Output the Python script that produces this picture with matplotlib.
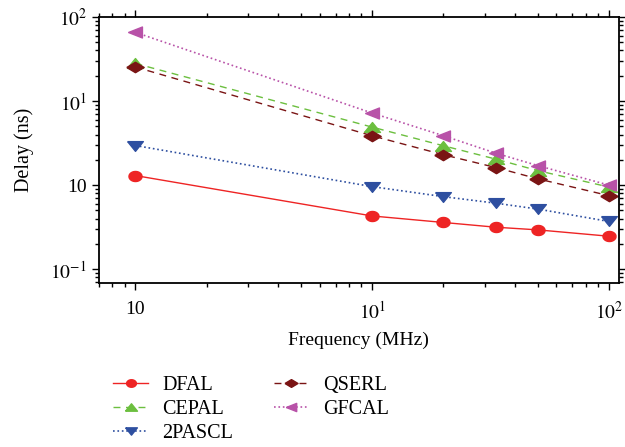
import numpy as np
import matplotlib
matplotlib.use("Agg")
import matplotlib.pyplot as plt
from matplotlib.ticker import FixedLocator, FixedFormatter, LogLocator, NullFormatter

plt.rcParams['font.family'] = ['Liberation Serif', 'DejaVu Serif']
plt.rcParams['mathtext.fontset'] = 'stix'

freq = [1, 10, 20, 33.3, 50, 100]

DFAL = [1.30, 0.43, 0.36, 0.316, 0.294, 0.247]
CEPAL = [28.0, 4.9, 2.94, 2.04, 1.49, 0.95]
PASCL = [2.96, 0.96, 0.73, 0.61, 0.52, 0.37]
QSERL = [25.4, 3.86, 2.30, 1.62, 1.19, 0.75]
GFCAL = [65.6, 7.2, 3.87, 2.40, 1.71, 1.0]

x_ticks = [1, 10, 100]
x_labels = ['10', '$10^1$', '$10^2$']
y_ticks = [0.1, 1, 10, 100]
y_labels = ['$10^{-1}$', '10', '$10^1$', '$10^2$']

# markers in the source are a bit wider than tall
t = np.linspace(0, 2 * np.pi, 40)
m_circle = list(zip(np.cos(t), 0.77 * np.sin(t)))
m_up = [(-1, -0.62), (1, -0.62), (0, 0.62), (-1, -0.62)]
m_down = [(-1, 0.62), (1, 0.62), (0, -0.62), (-1, 0.62)]
m_left = [(-1, 0), (1, 0.79), (1, -0.79), (-1, 0)]
m_diam = [(-1, 0), (0, 0.6), (1, 0), (0, -0.6), (-1, 0)]

fig = plt.figure(figsize=(6.25, 4.47), dpi=100)
ax = fig.add_axes([0.158, 0.367, 0.832, 0.595])

ax.plot(freq, DFAL, '-', color='#ee2424', marker=m_circle, ms=9.4, lw=1, label='DFAL')
ax.plot(freq, CEPAL, '--', color='#6cbf3f', marker=m_up, ms=11.5, lw=1, label='CEPAL', dashes=(5, 4))
ax.plot(freq, PASCL, ':', color='#2e4fa0', marker=m_down, ms=11.3, lw=1.2, label='2PASCL')
ax.plot(freq, QSERL, '--', color='#7a1414', marker=m_diam, ms=12.5, lw=1, label='QSERL', dashes=(5, 4))
ax.plot(freq, GFCAL, ':', color='#b852a8', marker=m_left, ms=10, lw=1.2, label='GFCAL')

ax.set_xscale('log')
ax.set_yscale('log')
ax.set_xlim(0.70, 110)
ax.set_ylim(0.0687, 100)

ax.xaxis.set_major_locator(FixedLocator(x_ticks))
ax.xaxis.set_major_formatter(FixedFormatter(x_labels))
ax.yaxis.set_major_locator(FixedLocator(y_ticks))
ax.yaxis.set_major_formatter(FixedFormatter(y_labels))
ax.xaxis.set_minor_locator(LogLocator(base=10, subs=range(2, 10)))
ax.yaxis.set_minor_locator(LogLocator(base=10, subs=range(2, 10)))
ax.xaxis.set_minor_formatter(NullFormatter())
ax.yaxis.set_minor_formatter(NullFormatter())

ax.tick_params(which='both', direction='out', top=True, right=True, labelsize=14, width=1)
ax.tick_params(which='major', length=5)
ax.tick_params(which='minor', length=3)
ax.tick_params(axis='x', which='major', pad=8)
for s in ax.spines.values():
    s.set_linewidth(1.3)

ax.set_xlabel('Frequency (MHz)', fontsize=14, labelpad=6)
ax.set_ylabel('Delay (ns)', fontsize=14.5, labelpad=12)

fig.legend(loc='upper left', bbox_to_anchor=(0.168, 0.178), ncol=2, frameon=False,
           fontsize=14.5, handlelength=1.75, handletextpad=0.7, columnspacing=2.0,
           labelspacing=0.25, borderaxespad=0, markerscale=0.75)

fig.savefig('out.png', dpi=100)
